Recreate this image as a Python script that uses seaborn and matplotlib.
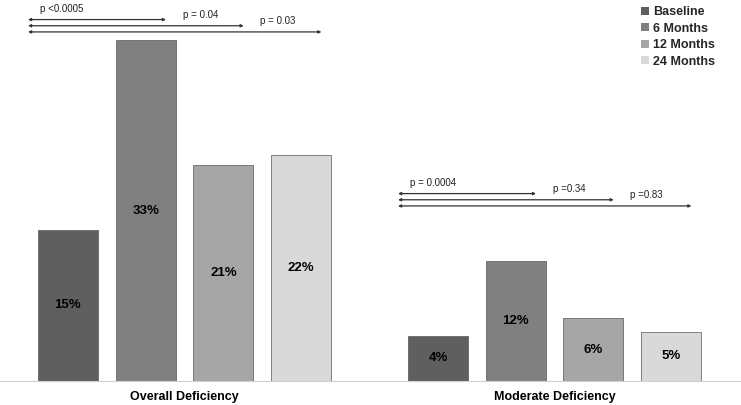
import pandas as pd
import matplotlib.pyplot as plt
import seaborn as sns

### data
categories = ["Overall Deficiency", "Moderate Deficiency"]
periods = ["Baseline", "6 Months", "12 Months", "24 Months"]
overall_values = [14.7, 33.1, 21.0, 21.9]
moderate_values = [4.4, 11.7, 6.1, 4.8]
overall_pvalues = ["p <0.0005", "p = 0.04", "p = 0.03"]
moderate_pvalues = ["p = 0.0004", "p =0.34", "p =0.83"]
colors = ["#5f5f5f", "#808080", "#a6a6a6", "#d9d9d9"]

donnees = pd.DataFrame({
    "category": [categories[0]] * 4 + [categories[1]] * 4,
    "period": periods * 2,
    "value": overall_values + moderate_values,
})

sns.set_style("white")
plt.rcParams['font.family'] = ['Liberation Sans', 'DejaVu Sans']

fig = plt.figure(figsize=(7.41, 4.05), dpi=100)
ax = fig.add_axes([0, 24 / 405, 1, 381 / 405])

sns.barplot(data=donnees, x="category", y="value", hue="period",
            hue_order=periods, palette=colors, width=0.84, gap=0.23,
            edgecolor="#555555", linewidth=0.5, ax=ax)

ax.set_xlim(-0.4986, 1.504)
ax.set_ylim(0, 37.0)
ax.set_xlabel("")
ax.set_ylabel("")
ax.set_yticks([])
ax.tick_params(axis="x", length=0, pad=7)
for lab in ax.get_xticklabels():
    lab.set_fontweight("bold")
    lab.set_fontsize(9)
    lab.set_color("black")
for side in ["top", "left", "right"]:
    ax.spines[side].set_visible(False)
ax.spines["bottom"].set_color("#d0d0d0")
ax.spines["bottom"].set_linewidth(0.8)

# value labels inside bars
for cont in ax.containers:
    ax.bar_label(cont, labels=[f"{v:.0f}%" for v in cont.datavalues],
                 label_type="center", fontsize=9.5, fontweight="bold",
                 color="black")

# significance arrows, from baseline to each follow-up
bars = [list(c) for c in ax.containers]  # bars[period][category]


def draw_pvalues(cat, pvals, levels):
    base = bars[0][cat]
    x0 = base.get_x() - 0.027
    prev_end = None
    for i, (p, y) in enumerate(zip(pvals, levels)):
        b = bars[i + 1][cat]
        x1 = b.get_x() + b.get_width() / 2 + 0.055
        ax.annotate("", xy=(x1, y), xytext=(x0, y),
                    arrowprops=dict(arrowstyle="<|-|>", color="#333333",
                                    lw=0.9, mutation_scale=4,
                                    shrinkA=0, shrinkB=0))
        tx = x0 + 0.033 if prev_end is None else prev_end + 0.045
        ax.annotate(p, xy=(tx, y), xytext=(0, 4), textcoords="offset points",
                    ha="left", va="bottom", fontsize=7, color="#222222")
        prev_end = x1


draw_pvalues(0, overall_pvalues, [35.1, 34.5, 33.9])
draw_pvalues(1, moderate_pvalues, [18.2, 17.6, 17.0])

leg = ax.legend(loc="upper left", bbox_to_anchor=(636 / 741, 0.997),
                bbox_transform=fig.transFigure, frameon=False,
                handlelength=0.6, handleheight=0.6, handletextpad=0.35,
                labelspacing=0.36, borderaxespad=0.0,
                prop={"weight": "bold", "size": 9})
for h in leg.legend_handles:
    h.set_edgecolor("none")

plt.savefig("out.png", dpi=100)
plt.close()
